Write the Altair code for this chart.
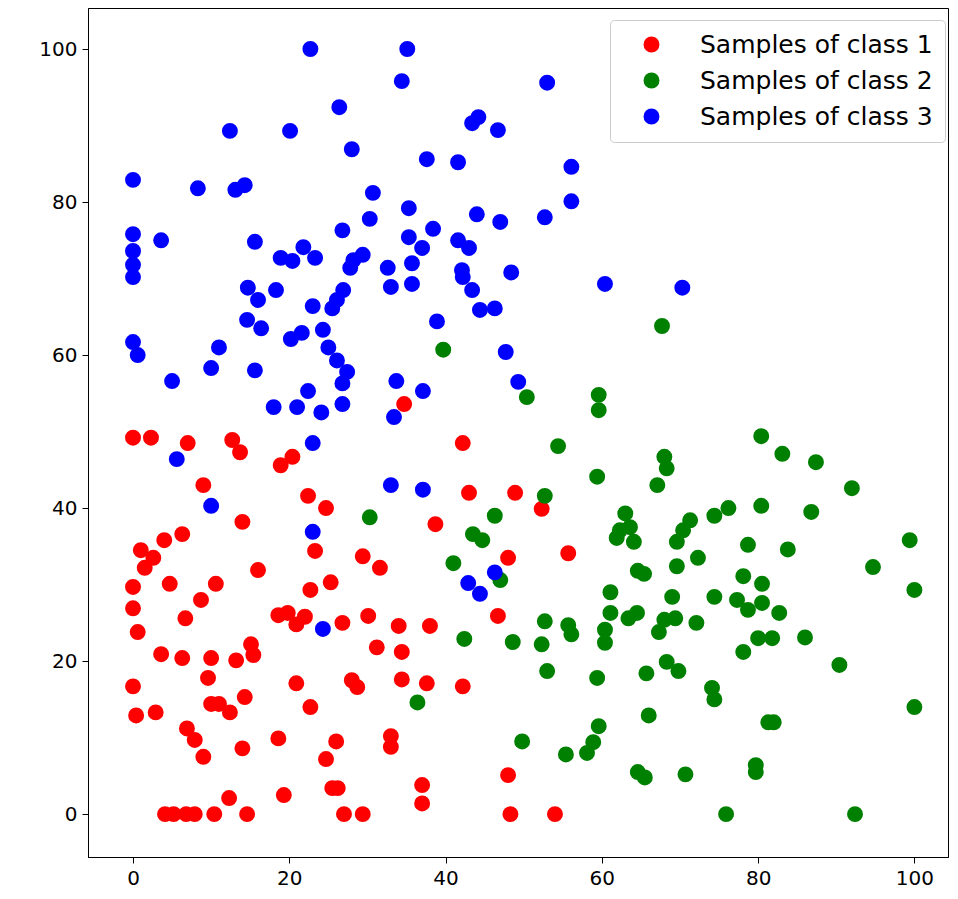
import altair as alt
import pandas as pd

labels = ["Samples of class 1", "Samples of class 2", "Samples of class 3"]
colors = ["red", "green", "blue"]

red_x = [0, 2.3, 7.0, 12.7, 13.7, 18.9, 20.4, 9.0, 14.0, 6.3,
         4.0, 1.0, 2.6, 1.5, 16.0, 0, 4.7, 10.6, 8.7, 0,
         6.7, 18.6, 19.8, 20.9, 0.6, 3.6, 6.3, 10.0, 13.2, 15.1,
         15.4, 0, 9.6, 20.9, 0.4, 2.9, 10.0, 11.0, 12.4, 14.3,
         6.9, 7.9, 9.0, 14.0, 18.6, 19.3, 12.3,
         4.1, 5.2, 6.8, 7.9, 10.4, 14.6,
         34.7, 42.2, 43.0, 48.9, 22.4, 24.7, 38.7, 23.3, 29.4, 31.6,
         48.0, 25.3, 22.7, 22.0, 26.8, 30.1, 34.0, 38.0, 46.7, 31.2,
         34.4, 28.0, 28.7, 34.4, 37.6, 42.2, 22.7, 26.0, 33.0, 33.0,
         24.7, 25.5, 26.2, 37.0, 37.0, 48.0,
         27.0, 29.4, 48.3, 54.0, 52.3, 55.7]
red_y = [49.2, 49.2, 48.5, 48.9, 47.3, 45.6, 46.7, 43.0, 38.2, 36.6,
         35.8, 34.5, 33.5, 32.2, 31.9, 29.7, 30.1, 30.1, 28.0, 26.9,
         25.6, 26.0, 26.3, 24.8, 23.8, 20.9, 20.4, 20.4, 20.1, 22.2,
         20.8, 16.7, 17.8, 17.1, 12.9, 13.3, 14.4, 14.4, 13.3, 15.3,
         11.2, 9.7, 7.5, 8.6, 9.9, 2.5, 2.1,
         0, 0, 0, 0, 0, 0,
         53.6, 48.5, 42.0, 42.0, 41.6, 40.0, 37.9, 34.4, 33.7, 32.2,
         33.5, 30.3, 29.3, 25.8, 25.0, 25.9, 24.6, 24.6, 25.9, 21.8,
         21.2, 17.5, 16.6, 17.6, 17.1, 16.7, 14.0, 9.5, 10.2, 8.8,
         7.2, 3.4, 3.4, 3.8, 1.4, 5.1,
         0, 0, 0, 0, 39.9, 34.1]

green_x = [39.7, 30.3, 36.4, 41.0, 42.4, 43.5, 44.7, 46.3, 47.0, 48.6,
           49.8, 67.7, 50.4, 59.6, 59.6, 54.4, 68.0, 68.3, 59.4, 67.1,
           52.7, 63.0, 62.3, 63.6, 61.9, 64.1, 71.3, 70.4, 69.6, 74.4,
           76.2, 72.3, 69.6, 64.6, 65.4, 80.4, 83.1, 87.4, 92.0, 80.4,
           86.8, 78.7, 83.8, 99.4, 94.7, 78.1, 61.1, 69.0, 74.4, 61.1,
           63.4, 64.5, 68.0, 69.4, 67.3, 72.1, 52.7, 55.7, 56.1, 60.4,
           60.4, 52.3, 53.0, 59.4, 65.7, 68.3, 69.8, 74.1, 74.4, 59.6,
           58.9, 58.1, 55.4, 66.0, 64.6, 65.5, 70.7, 75.9, 80.5, 77.3,
           78.7, 80.5, 82.7, 100.0, 80.0, 81.8, 86.0, 78.1, 90.4, 100.0,
           81.3, 82.0, 79.7, 79.7, 92.4]
green_y = [60.7, 38.8, 14.6, 32.8, 22.9, 36.6, 35.8, 39.0, 30.6, 22.5,
           9.5, 63.8, 54.5, 54.8, 52.8, 48.1, 46.7, 45.2, 44.1, 43.0,
           41.6, 39.3, 37.1, 37.5, 36.1, 35.6, 38.4, 37.1, 35.6, 39.0,
           40.0, 33.5, 32.4, 31.8, 31.4, 49.4, 47.1, 46.0, 42.6, 40.3,
           39.5, 35.2, 34.6, 35.8, 32.3, 31.1, 29.0, 28.4, 28.4, 26.3,
           25.6, 26.3, 25.4, 25.6, 23.8, 25.0, 25.2, 24.7, 23.5, 24.1,
           22.4, 22.2, 18.7, 17.8, 18.4, 19.9, 18.7, 16.5, 15.0, 11.5,
           9.4, 8.0, 7.8, 12.9, 5.5, 4.8, 5.2, 0, 30.1, 28.0,
           26.7, 27.6, 26.3, 29.3, 23.0, 23.0, 23.1, 21.2, 19.5, 14.0,
           12.0, 12.0, 6.4, 5.5, 0]

blue_x = [22.7, 35.1, 34.4, 26.4, 43.4, 44.2, 46.7, 28.0, 37.6, 41.6,
          30.7, 35.3, 30.3, 26.8, 44.0, 47.0, 21.8, 23.3, 35.3, 38.4,
          37.0, 41.6, 43.0, 28.2, 29.4, 27.8, 32.6, 35.7, 42.1, 42.2,
          48.4, 26.9, 33.0, 35.7, 43.4, 53.0, 56.1, 56.1, 52.7, 60.4,
          70.3, 12.4, 20.1, 0, 8.3, 13.1, 14.3, 0, 3.6, 0,
          0, 0, 15.6, 18.9, 20.4, 14.7, 18.3, 16.0, 14.6, 16.4,
          20.2, 21.6, 0, 0.6, 11.0, 10.0, 15.6, 5.0, 18.0, 21.0,
          5.6, 10.0, 23.0, 26.1, 25.5, 44.4, 46.3, 38.9, 47.7, 24.3,
          25.0, 26.1, 27.4, 26.8, 22.4, 24.1, 26.8, 33.7, 37.1, 33.4,
          49.3, 23.0, 33.0, 37.1, 23.0, 46.3, 42.9, 44.4, 24.3]
blue_y = [100.0, 100.0, 95.8, 92.4, 90.3, 91.1, 89.4, 86.9, 85.6, 85.2,
          81.2, 79.2, 77.8, 76.3, 78.4, 77.4, 74.1, 72.7, 75.4, 76.5,
          74.0, 75.0, 74.0, 72.4, 73.1, 71.4, 71.4, 72.0, 71.1, 70.2,
          70.8, 68.5, 68.9, 69.3, 68.5, 95.6, 84.6, 80.1, 78.0, 69.3,
          68.8, 89.3, 89.3, 82.9, 81.8, 81.6, 82.2, 75.8, 75.0, 73.6,
          71.8, 70.2, 74.8, 72.7, 72.3, 68.8, 68.5, 67.2, 64.6, 63.5,
          62.1, 62.9, 61.7, 60.0, 61.0, 58.3, 58.0, 56.6, 53.2, 53.2,
          46.4, 40.3, 66.4, 67.2, 66.1, 65.9, 66.1, 64.4, 60.4, 63.3,
          61.0, 59.3, 57.8, 56.3, 55.3, 52.5, 53.6, 56.6, 55.3, 51.9,
          56.5, 48.5, 43.0, 42.4, 36.9, 31.6, 30.2, 28.8, 24.2]

x_ticks = [0, 20, 40, 60, 80, 100]
y_ticks = [0, 20, 40, 60, 80, 100]

frames = []
for lab, xs, ys in zip(labels, [red_x, green_x, blue_x], [red_y, green_y, blue_y]):
    frames.append(pd.DataFrame({"x": xs, "y": ys, "cls": lab}))
df = pd.concat(frames, ignore_index=True)
df["order"] = range(len(df))

FONT = "DejaVu Sans"

chart = alt.Chart(df).mark_circle(size=254, opacity=1).encode(
    x=alt.X("x:Q", scale=alt.Scale(domain=[-5.76, 104.3], nice=False, zero=False),
            axis=alt.Axis(values=x_ticks, title=None, grid=False)),
    y=alt.Y("y:Q", scale=alt.Scale(domain=[-5.6, 105.36], nice=False, zero=False),
            axis=alt.Axis(values=y_ticks, title=None, grid=False)),
    color=alt.Color("cls:N", scale=alt.Scale(domain=labels, range=colors),
                    legend=alt.Legend(title=None, orient="none", legendX=522, legendY=12,
                                      symbolType="circle", symbolSize=254, symbolStrokeWidth=0,
                                      symbolOffset=17, labelOffset=36, rowPadding=10,
                                      padding=12, labelFontSize=25, labelFont=FONT,
                                      labelLimit=500,
                                      labelColor="black", fillColor="rgba(255,255,255,0.8)",
                                      strokeColor="#cccccc", cornerRadius=4)),
    order=alt.Order("order:Q"),
).properties(
    width=860, height=849,
    autosize=alt.AutoSizeParams(type="none"),
    padding={"left": 80, "top": 0, "right": 2, "bottom": 42},
).configure_view(
    stroke="black", strokeWidth=1
).configure_axis(
    domainColor="black", tickColor="black", tickSize=6, tickWidth=1,
    labelColor="black", labelFont=FONT, labelFontSize=20, labelPadding=5,
)

chart.save("out.html", embed_options={"renderer": "svg", "actions": False})
